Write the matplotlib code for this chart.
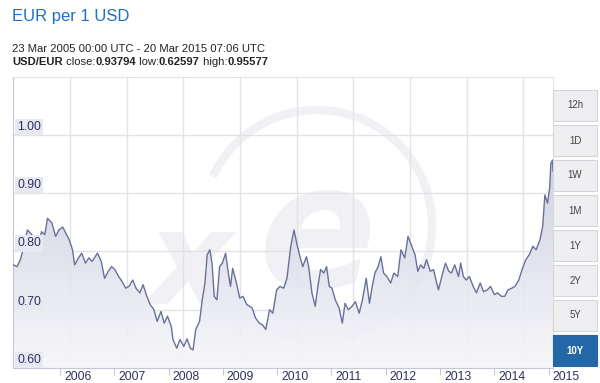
import numpy as np
import matplotlib.pyplot as plt
from matplotlib.patches import Rectangle, Arc
from matplotlib.colors import LinearSegmentedColormap
from matplotlib.transforms import ScaledTranslation

# USD/EUR (decimal year, rate)
years = [2005.14, 2005.21, 2005.27, 2005.32, 2005.40, 2005.46, 2005.53, 2005.59, 2005.66, 2005.72,
         2005.77, 2005.85, 2005.92, 2005.98, 2006.05, 2006.11, 2006.17, 2006.23, 2006.27, 2006.34,
         2006.40, 2006.47, 2006.53, 2006.59, 2006.69, 2006.76, 2006.82, 2006.89, 2006.95, 2007.01,
         2007.08, 2007.14, 2007.21, 2007.27, 2007.34, 2007.40, 2007.47, 2007.53, 2007.60, 2007.66,
         2007.73, 2007.79, 2007.86, 2007.92, 2007.98, 2008.05, 2008.08, 2008.15, 2008.21, 2008.28,
         2008.34, 2008.40, 2008.45, 2008.50, 2008.57, 2008.62, 2008.67, 2008.71, 2008.76, 2008.80,
         2008.84, 2008.89, 2008.94, 2008.99, 2009.05, 2009.10, 2009.14, 2009.18, 2009.25, 2009.31,
         2009.37, 2009.44, 2009.54, 2009.60, 2009.67, 2009.73, 2009.79, 2009.86, 2009.92, 2009.99,
         2010.05, 2010.12, 2010.18, 2010.25, 2010.31, 2010.36, 2010.42, 2010.47, 2010.54, 2010.58,
         2010.64, 2010.70, 2010.75, 2010.80, 2010.86, 2010.91, 2010.96, 2011.01, 2011.07, 2011.14,
         2011.20, 2011.25, 2011.31, 2011.38, 2011.44, 2011.51, 2011.57, 2011.64, 2011.70, 2011.75,
         2011.80, 2011.86, 2011.91, 2011.96, 2012.02, 2012.09, 2012.15, 2012.22, 2012.28, 2012.35,
         2012.41, 2012.48, 2012.54, 2012.59, 2012.64, 2012.70, 2012.75, 2012.82, 2012.88, 2012.93,
         2012.97, 2013.04, 2013.10, 2013.16, 2013.21, 2013.27, 2013.34, 2013.38, 2013.43, 2013.48,
         2013.54, 2013.61, 2013.67, 2013.74, 2013.80, 2013.87, 2013.93, 2014.00, 2014.06, 2014.13,
         2014.19, 2014.25, 2014.32, 2014.38, 2014.45, 2014.51, 2014.58, 2014.64, 2014.71, 2014.77,
         2014.84, 2014.89, 2014.93, 2014.98, 2015.02, 2015.04, 2015.07, 2015.08]
rate = [0.777, 0.774, 0.786, 0.803, 0.837, 0.831, 0.823, 0.803, 0.834, 0.829,
        0.857, 0.849, 0.826, 0.837, 0.842, 0.831, 0.820, 0.803, 0.777, 0.789,
        0.797, 0.780, 0.789, 0.783, 0.797, 0.783, 0.754, 0.766, 0.774, 0.769,
        0.757, 0.749, 0.737, 0.740, 0.751, 0.737, 0.729, 0.743, 0.723, 0.709,
        0.700, 0.680, 0.697, 0.677, 0.689, 0.671, 0.649, 0.634, 0.649, 0.637,
        0.650, 0.634, 0.631, 0.666, 0.680, 0.717, 0.746, 0.794, 0.803, 0.780,
        0.723, 0.717, 0.774, 0.780, 0.797, 0.763, 0.740, 0.771, 0.746, 0.720,
        0.723, 0.709, 0.703, 0.686, 0.677, 0.674, 0.666, 0.700, 0.694, 0.734,
        0.740, 0.737, 0.754, 0.809, 0.837, 0.814, 0.791, 0.774, 0.791, 0.774,
        0.729, 0.706, 0.740, 0.769, 0.763, 0.774, 0.740, 0.737, 0.717, 0.703,
        0.677, 0.711, 0.700, 0.706, 0.714, 0.694, 0.717, 0.754, 0.711, 0.740,
        0.763, 0.774, 0.791, 0.763, 0.757, 0.746, 0.763, 0.757, 0.803, 0.789,
        0.826, 0.809, 0.794, 0.766, 0.777, 0.771, 0.786, 0.766, 0.769, 0.749,
        0.734, 0.760, 0.780, 0.766, 0.763, 0.777, 0.757, 0.780, 0.757, 0.751,
        0.757, 0.740, 0.729, 0.746, 0.731, 0.734, 0.740, 0.726, 0.729, 0.723,
        0.723, 0.734, 0.737, 0.740, 0.751, 0.769, 0.786, 0.794, 0.809, 0.803,
        0.820, 0.843, 0.897, 0.883, 0.911, 0.951, 0.957, 0.938]

year_ticks = list(range(2006, 2016))
y_ticks = [0.60, 0.70, 0.80, 0.90, 1.00]
buttons = ['12h', '1D', '1W', '1M', '1Y', '2Y', '5Y', '10Y']
active = '10Y'

plt.rcParams['font.family'] = ['Liberation Sans', 'DejaVu Sans']

W, H = 600, 383
fig = plt.figure(figsize=(W / 100, H / 100), dpi=100)
ax = fig.add_axes([13.3 / W, 15 / H, 539.7 / W, 291.3 / H])
ax.set_facecolor('none')

# watermark (xe logo, very faint), behind the axes
wm = '#f1f1f5'
fig.patches.append(Arc((3.17, 1.58), 2.3, 2.3, theta1=-118, theta2=155, lw=6,
                       color=wm, transform=fig.dpi_scale_trans, zorder=-2))
fig.text(318 / W, 1 - 240 / H, 'e', fontsize=125, fontweight='bold', style='italic',
         color=wm, ha='center', va='center', zorder=-2, family='DejaVu Sans')
fig.text(190 / W, 1 - 268 / H, 'x', fontsize=95, fontweight='bold', style='italic',
         color=wm, ha='center', va='center', zorder=-2, family='DejaVu Sans')

# background grid
for k in range(1, 10):
    f = k * 56.67 / 539.7
    ax.plot([f, f], [0, 1], transform=ax.transAxes, color='#e3e3e6', lw=1, zorder=1)
for v in y_ticks[1:]:
    ax.axhline(v, color='#e3e3e6', lw=1, zorder=1)

# gradient area under curve
x0, x1 = years[0], years[-1]
cmap = LinearSegmentedColormap.from_list('g', ['#f7f7fa', '#c6c9dd'])
grad = np.linspace(0, 1, 256).reshape(-1, 1)
im = ax.imshow(grad, extent=[x0, x1, 0.60, 1.0], origin='lower', aspect='auto',
               cmap=cmap, zorder=2, interpolation='bilinear', alpha=0.92)
poly = ax.fill_between(years, rate, 0.60, facecolor='none', edgecolor='none')
im.set_clip_path(poly.get_paths()[0], transform=ax.transData)
ax.plot(years, rate, color='#6a7199', lw=1.0, zorder=3)

ax.set_xlim(x0, x1)
ax.set_ylim(0.60, 1.10)

for s in ['top', 'right']:
    ax.spines[s].set_color('#e3e3e6')
for s in ['left', 'bottom']:
    ax.spines[s].set_color('#c6c6d8')

ax.set_yticks([])
ax.set_xticks(year_ticks)
ax.set_xticklabels([str(y) for y in year_ticks])
ax.tick_params(axis='x', direction='out', length=5, color='#c6c6d8', pad=-2.5,
               labelsize=8.7, labelcolor='#2e3062')
for lbl in ax.get_xticklabels():
    lbl.set_ha('left')
    lbl.set_transform(lbl.get_transform() + ScaledTranslation(4 / 100, 0, fig.dpi_scale_trans))

ytr = ax.get_yaxis_transform()
for v in y_ticks:
    ax.text(0.0, v, f'{v:.2f}', transform=ytr + ScaledTranslation(4 / 100, 2 / 100, fig.dpi_scale_trans),
            fontsize=8.7, color='#2e3062', va='bottom', ha='left', zorder=4,
            bbox=dict(boxstyle='square,pad=0.18', fc='#e8e8f1', ec='none'))

# header
fig.text(12 / W, 1 - 16.5 / H, 'EUR per 1 USD', color='#1f6fc5', fontsize=12, va='center')
fig.text(12 / W, 1 - 49.5 / H, '23 Mar 2005 00:00 UTC - 20 Mar 2015 07:06 UTC',
         color='#222222', fontsize=8.1, va='center')

pieces = [('USD/EUR', True), (' close:', False), ('0.93794', True), (' low:', False),
          ('0.62597', True), (' high:', False), ('0.95577', True)]
fig.canvas.draw()
r = fig.canvas.get_renderer()
xpos = 12
for txt, bold in pieces:
    t = fig.text(xpos / W, 1 - 62 / H, txt, color='#222222', fontsize=8.1, va='center',
                 fontweight='bold' if bold else 'normal')
    xpos += t.get_window_extent(r).width

# range buttons
for i, b in enumerate(buttons):
    top = 90 + 35 * i
    on = b == active
    fig.patches.append(Rectangle((553 / W, 1 - (top + 31) / H), 44 / W, 31 / H,
                                 transform=fig.transFigure,
                                 fc='#2467a6' if on else '#efeff1',
                                 ec='#2467a6' if on else '#d6d6da', lw=0.8))
    fig.text(575 / W, 1 - (top + 15.5) / H, b, ha='center', va='center', fontsize=7,
             color='white' if on else '#444444', fontweight='bold' if on else 'normal')

fig.savefig('out.png', dpi=100)
